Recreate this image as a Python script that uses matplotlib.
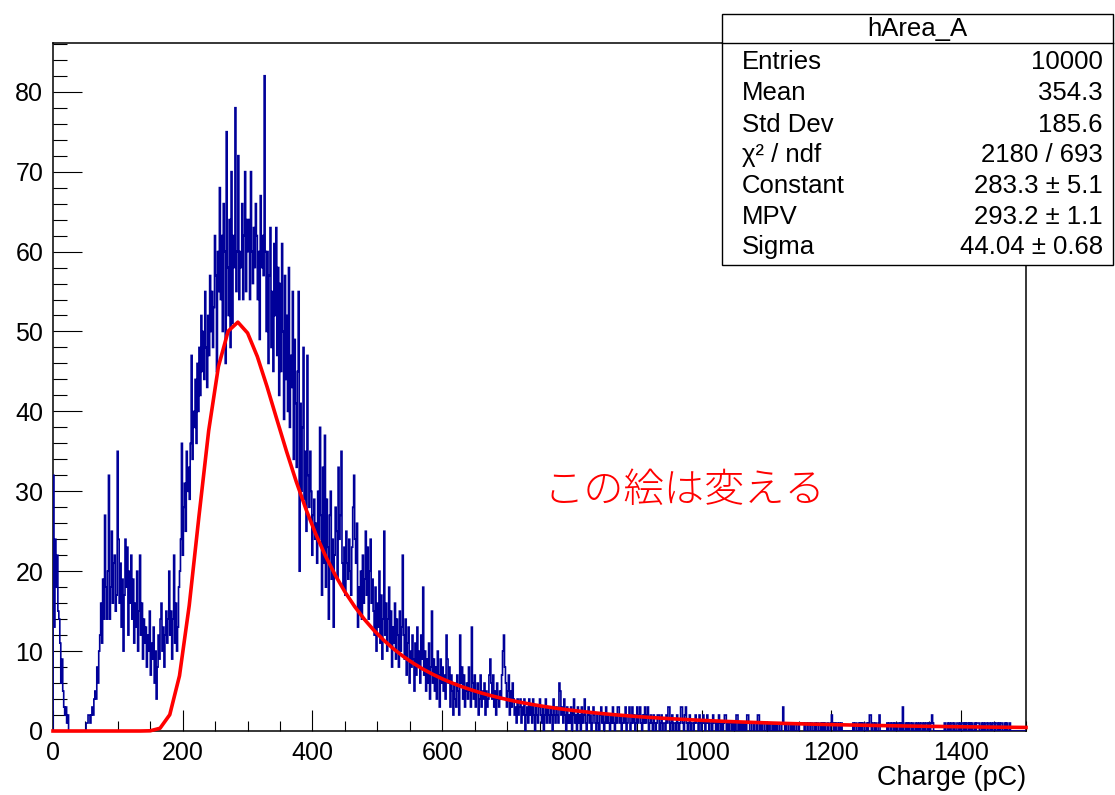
import numpy as np
import matplotlib
matplotlib.use("Agg")
import matplotlib.pyplot as plt
from matplotlib.ticker import MultipleLocator
from matplotlib.patches import Rectangle
from matplotlib.lines import Line2D

# ---- histogram hArea_A : 1000 bins, 0..1500 pC ----
bin_width = 1.5
x_min, x_max = 0.0, 1500.0
y_max = 86.1

counts = np.array([
    # 0 - 150
    32, 13, 24, 18, 22, 15, 14, 11, 6, 9,
    5, 3, 2, 3, 1, 2, 0, 0, 0, 0,
    0, 0, 0, 0, 0, 0, 0, 0, 0, 0,
    0, 0, 0, 0, 1, 1, 2, 2, 1, 2,
    3, 2, 4, 5, 4, 8, 6, 10, 12, 16,
    11, 19, 14, 27, 18, 14, 20, 32, 14, 18,
    25, 16, 21, 22, 15, 17, 35, 24, 16, 21,
    13, 19, 10, 17, 24, 18, 23, 12, 20, 16,
    22, 14, 19, 11, 16, 13, 20, 10, 15, 22,
    12, 16, 9, 14, 11, 13, 8, 12, 10, 15,
    # 150 - 300
    7, 11, 9, 13, 6, 10, 4, 8, 12, 9,
    14, 16, 10, 13, 8, 12, 15, 11, 14, 20,
    12, 15, 9, 14, 22, 11, 16, 10, 13, 18,
    20, 24, 36, 22, 28, 31, 25, 35, 30, 33,
    29, 36, 47, 34, 40, 38, 44, 36, 46, 40,
    48, 42, 52, 45, 50, 44, 55, 48, 43, 52,
    47, 57, 50, 55, 48, 53, 62, 57, 45, 60,
    55, 68, 54, 62, 50, 66, 60, 46, 75, 58,
    52, 64, 48, 70, 51, 62, 58, 78, 55, 60,
    72, 54, 60, 58, 66, 54, 62, 70, 55, 64,
    # 300 - 450
    60, 64, 54, 70, 60, 56, 63, 58, 66, 62,
    54, 60, 49, 67, 58, 62, 57, 82, 60, 50,
    60, 46, 57, 63, 48, 55, 45, 61, 52, 63,
    47, 58, 42, 56, 45, 61, 50, 39, 57, 44,
    52, 40, 58, 38, 47, 43, 55, 34, 49, 41,
    33, 45, 55, 20, 41, 30, 38, 48, 29, 35,
    25, 47, 32, 28, 35, 30, 22, 27, 29, 24,
    26, 21, 30, 24, 38, 27, 17, 33, 21, 37,
    18, 29, 23, 14, 27, 30, 19, 24, 13, 22,
    28, 25, 19, 33, 24, 27, 35, 21, 18, 23,
    # 450 - 600
    17, 25, 21, 19, 24, 20, 17, 23, 28, 32,
    24, 21, 26, 13, 18, 15, 20, 14, 22, 16,
    19, 25, 17, 23, 14, 20, 24, 16, 19, 15,
    12, 18, 10, 16, 13, 20, 11, 17, 9, 14,
    25, 12, 16, 10, 14, 18, 11, 15, 8, 13,
    11, 16, 9, 14, 12, 8, 15, 10, 13, 22,
    12, 9, 14, 7, 11, 13, 6, 10, 8, 12,
    9, 5, 11, 7, 13, 8, 10, 6, 12, 9,
    18, 7, 10, 5, 9, 6, 11, 4, 8, 15,
    6, 9, 5, 8, 4, 10, 7, 3, 9, 6,
    # 600 - 750
    8, 5, 7, 4, 12, 9, 6, 8, 3, 7,
    5, 2, 6, 4, 3, 7, 5, 2, 12, 6,
    8, 4, 7, 3, 5, 6, 4, 8, 5, 3,
    13, 6, 4, 7, 3, 5, 6, 2, 4, 7,
    3, 5, 4, 6, 2, 5, 3, 4, 7, 9,
    6, 4, 7, 3, 5, 2, 6, 4, 3, 5,
    4, 7, 10, 12, 8, 6, 3, 5, 7, 2,
    5, 3, 6, 4, 2, 3, 1, 4, 2, 3,
    4, 1, 3, 2, 4, 0, 2, 3, 1, 4,
    2, 3, 1, 4, 2, 0, 3, 2, 1, 3,
    # 750 - 900
    4, 2, 1, 3, 0, 2, 4, 1, 3, 2,
    1, 3, 2, 0, 4, 2, 1, 3, 2, 1,
    6, 5, 2, 3, 1, 4, 2, 0, 3, 1,
    2, 1, 3, 0, 2, 4, 1, 2, 0, 3,
    1, 2, 0, 3, 1, 2, 4, 1, 0, 2,
    3, 1, 2, 0, 1, 3, 2, 1, 0, 2,
    1, 0, 2, 3, 1, 2, 0, 1, 3, 1,
    2, 1, 0, 2, 1, 3, 1, 0, 2, 1,
    3, 3, 1, 2, 0, 1, 2, 1, 3, 0,
    1, 2, 3, 0, 1, 3, 1, 2, 0, 1,
    # 900 - 1050
    3, 1, 2, 3, 1, 0, 2, 1, 3, 1,
    2, 3, 0, 1, 2, 1, 0, 2, 1, 0,
    1, 2, 2, 0, 1, 2, 0, 1, 1, 0,
    2, 1, 3, 3, 0, 1, 2, 0, 1, 1,
    0, 2, 1, 0, 1, 3, 3, 1, 0, 2,
    3, 1, 0, 1, 2, 0, 1, 1, 0, 1,
    2, 1, 1, 0, 2, 1, 0, 1, 2, 1,
    0, 1, 2, 1, 0, 1, 1, 0, 2, 1,
    1, 0, 1, 0, 2, 1, 0, 1, 0, 1,
    2, 2, 0, 1, 0, 1, 1, 0, 1, 0,
    # 1050 - 1200
    1, 0, 2, 2, 0, 1, 0, 1, 0, 1,
    0, 1, 0, 2, 2, 1, 0, 0, 1, 1,
    0, 1, 1, 0, 2, 2, 0, 1, 0, 1,
    1, 0, 0, 1, 1, 0, 1, 0, 0, 1,
    0, 1, 0, 1, 0, 1, 1, 0, 0, 1,
    3, 1, 0, 1, 0, 0, 1, 1, 0, 1,
    0, 1, 0, 0, 1, 1, 0, 1, 1, 1,
    1, 1, 0, 1, 1, 0, 1, 1, 0, 1,
    1, 0, 0, 1, 0, 1, 1, 0, 0, 1,
    0, 1, 0, 1, 0, 0, 1, 0, 0, 1,
    # 1200 - 1350
    2, 1, 0, 1, 0, 1, 1, 0, 1, 0,
    1, 0, 0, 0, 0, 0, 0, 0, 0, 0,
    0, 0, 1, 0, 1, 1, 0, 0, 1, 0,
    1, 0, 1, 1, 0, 0, 1, 0, 1, 2,
    2, 0, 1, 1, 0, 1, 0, 0, 1, 2,
    0, 0, 0, 0, 0, 0, 0, 1, 0, 1,
    1, 0, 1, 1, 0, 1, 0, 0, 1, 1,
    0, 1, 0, 3, 0, 0, 1, 0, 1, 0,
    1, 1, 0, 1, 0, 0, 1, 0, 1, 0,
    1, 0, 1, 1, 0, 1, 0, 1, 1, 0,
    # 1350 - 1500
    1, 0, 1, 2, 1, 0, 0, 0, 0, 0,
    0, 0, 0, 0, 0, 0, 1, 0, 0, 1,
    0, 1, 0, 1, 1, 0, 1, 0, 0, 1,
    1, 0, 1, 0, 1, 1, 0, 1, 0, 1,
    1, 0, 1, 0, 1, 0, 0, 1, 0, 1,
    1, 1, 0, 0, 1, 0, 1, 0, 1, 1,
    0, 1, 1, 0, 1, 0, 1, 1, 0, 1,
    1, 0, 1, 0, 1, 1, 0, 0, 1, 0,
    1, 0, 0, 1, 0, 0, 0, 0, 0, 0,
    0, 0, 0, 0, 0, 0, 0, 0, 0, 0,
], dtype=float)
edges = x_min + bin_width * np.arange(len(counts) + 1)

# ---- Landau fit result ----
fit_constant = 283.3
fit_mpv = 293.2
fit_sigma = 44.04
fit_npx = 100

stat_names = ["Entries", "Mean", "Std Dev", "χ² / ndf", "Constant", "MPV", "Sigma"]
stat_values = ["10000", "354.3", "185.6", "2180 / 693",
               "283.3 ± 5.1", "293.2 ± 1.1", "44.04 ± 0.68"]
hist_name = "hArea_A"
x_label = "Charge (pC)"
note_text = "この絵は変える"


def denlan(v):
    """CERNLIB DENLAN rational approximation of the Landau density."""
    p1 = [0.4259894875, -0.1249762550, 0.03984243700, -0.006298287635, 0.001511162253]
    q1 = [1.0, -0.3388260629, 0.09594393323, -0.01608042283, 0.003778942063]
    p2 = [0.1788541609, 0.1173957403, 0.01488850518, -0.001394989411, 0.0001283617211]
    q2 = [1.0, 0.7428795082, 0.3153932961, 0.06694219548, 0.008790609714]
    p3 = [0.1788544503, 0.09359161662, 0.006325387654, 0.00006611667319, -0.000002031049101]
    q3 = [1.0, 0.6097809921, 0.2560616665, 0.04746722384, 0.006957301675]
    p4 = [0.9874054407, 118.6723273, 849.2794360, -743.7792444, 427.0262186]
    q4 = [1.0, 106.8615961, 337.6496214, 2016.712389, 1597.063511]
    p5 = [1.003675074, 167.5702434, 4789.711289, 21217.86767, -22324.94910]
    q5 = [1.0, 156.9424537, 3745.310488, 9834.698876, 66924.28357]
    p6 = [1.000827619, 664.9143136, 62972.92665, 475554.6998, -5743609.109]
    q6 = [1.0, 651.4101098, 56974.73333, 165917.4725, -2815759.939]
    a1 = [0.04166666667, -0.01996527778, 0.02709538966]
    a2 = [-1.845568670, -4.284640743]

    def rat(p, q, t):
        num = p[0] + (p[1] + (p[2] + (p[3] + p[4] * t) * t) * t) * t
        den = q[0] + (q[1] + (q[2] + (q[3] + q[4] * t) * t) * t) * t
        return num / den

    if v < -5.5:
        u = np.exp(v + 1.0)
        if u < 1e-10:
            return 0.0
        ue = np.exp(-1.0 / u)
        us = np.sqrt(u)
        return 0.3989422803 * (ue / us) * (1 + (a1[0] + (a1[1] + a1[2] * u) * u) * u)
    if v < -1:
        u = np.exp(-v - 1)
        return np.exp(-u) * np.sqrt(u) * rat(p1, q1, v)
    if v < 1:
        return rat(p2, q2, v)
    if v < 5:
        return rat(p3, q3, v)
    if v < 12:
        u = 1 / v
        return u * u * rat(p4, q4, u)
    if v < 50:
        u = 1 / v
        return u * u * rat(p5, q5, u)
    if v < 300:
        u = 1 / v
        return u * u * rat(p6, q6, u)
    u = 1 / (v - v * np.log(v) / (v + 1))
    return u * u * (1 + (a2[0] + a2[1] * u) * u)


W, H = 1115, 795
fig = plt.figure(figsize=(W / 100, H / 100), dpi=100)
fig.patch.set_facecolor("white")

fl, fr, ft, fb = 53, 1026, 43, 731
ax = fig.add_axes([fl / W, 1 - fb / H, (fr - fl) / W, (fb - ft) / H])
ax.set_xlim(x_min, x_max)
ax.set_ylim(0, y_max)

navy = "#000099"
ax.stairs(counts, edges, color=navy, lw=1.2, baseline=0, zorder=3)

xf = np.linspace(x_min, x_max, fit_npx + 1)
yf = np.array([fit_constant * denlan((x - fit_mpv) / fit_sigma) for x in xf])
ax.plot(xf, yf, color="#ff0000", lw=2.6, zorder=4, clip_on=False, solid_joinstyle="round")

font = "Liberation Sans"
fs_tick = 18
fs_stat = 18.5
fs_label = 19.5
ax.xaxis.set_major_locator(MultipleLocator(200))
ax.xaxis.set_minor_locator(MultipleLocator(50))
ax.yaxis.set_major_locator(MultipleLocator(10))
ax.yaxis.set_minor_locator(MultipleLocator(2))
ax.tick_params(axis="y", which="major", direction="in", length=20.9, width=0.8, pad=7)
ax.tick_params(axis="y", which="minor", direction="in", length=10.4, width=0.8)
ax.tick_params(axis="x", which="major", direction="in", length=14.8, width=0.8, pad=7)
ax.tick_params(axis="x", which="minor", direction="in", length=7.4, width=0.8)
for lab in ax.get_xticklabels() + ax.get_yticklabels():
    lab.set_fontfamily(font)
    lab.set_fontsize(fs_tick)
for s in ax.spines.values():
    s.set_linewidth(1.1)

fig.text(fr / W, 1 - 778 / H, x_label, ha="right", va="center",
         fontsize=fs_label, family=font)

ax.text(974, 30.0, note_text, color="#ff0000", fontsize=29, ha="center", va="center",
        family=["Noto Sans CJK JP", "DejaVu Sans"], fontweight="light", zorder=5)

# statistics box
bx0, bx1, by0, by1, bsep = 722, 1113, 14, 265, 43
fig.patches.append(Rectangle((bx0 / W, 1 - by1 / H), (bx1 - bx0) / W, (by1 - by0) / H,
                             transform=fig.transFigure, facecolor="white",
                             edgecolor="black", lw=1.0, zorder=10))
fig.lines.append(Line2D([bx0 / W, bx1 / W], [1 - bsep / H, 1 - bsep / H],
                        transform=fig.transFigure, color="black", lw=1.0, zorder=11))
fig.text((bx0 + bx1) / 2 / W, 1 - 29 / H, hist_name, ha="center", va="center",
         fontsize=fs_stat, family=font, zorder=12)
row_y = [62, 93, 125, 155, 186, 217, 247]
for name, val, yy in zip(stat_names, stat_values, row_y):
    fig.text(742 / W, 1 - yy / H, name, ha="left", va="center", fontsize=fs_stat,
             family=font, zorder=12)
    fig.text(1103 / W, 1 - yy / H, val, ha="right", va="center", fontsize=fs_stat,
             family=font, zorder=12)

fig.savefig("out.png", dpi=100)
